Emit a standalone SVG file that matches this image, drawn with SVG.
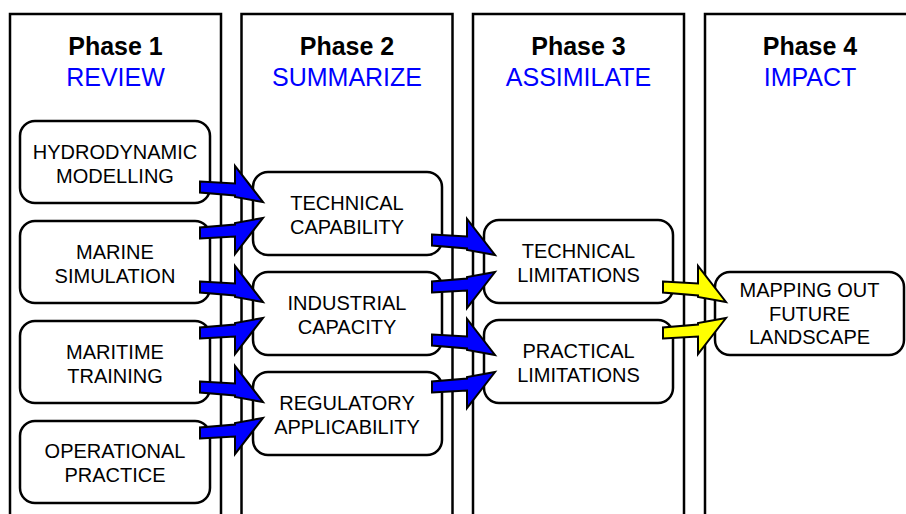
<svg xmlns="http://www.w3.org/2000/svg" xmlns:xlink="http://www.w3.org/1999/xlink" width="906" height="514" viewBox="0 0 906 514">
  <style>
    .col { fill: #ffffff; stroke: #000000; stroke-width: 2.5; }
    .node rect { fill: #ffffff; stroke: #000000; stroke-width: 2.5; }
    .node text { font-family: "Liberation Sans", Arial, sans-serif; font-size: 20px; fill: #000000; text-anchor: middle; }
    .phase { font-family: "Liberation Sans", Arial, sans-serif; font-size: 25px; font-weight: bold; fill: #000000; text-anchor: middle; }
    .stage { font-family: "Liberation Sans", Arial, sans-serif; font-size: 25px; fill: #0000ff; text-anchor: middle; }
    .blue { fill: #0000ff; stroke: #000000; stroke-width: 2; stroke-linejoin: miter; }
    .yellow { fill: #ffff00; stroke: #000000; stroke-width: 2; stroke-linejoin: miter; }
  </style>
  <defs>
    <!-- block arrows, tail centre at origin; "down" tilts toward +y, "up" toward -y -->
    <path id="arrow-down" d="M0,-5.5 L35,-3.5 L35,-21 L63,15 L35,10 L35,8.5 L0,5.5 Z"/>
    <path id="arrow-up" d="M0,5.5 L35,3.5 L35,21 L63,-15 L35,-10 L35,-8.5 L0,-5.5 Z"/>
  </defs>

  <rect width="906" height="514" fill="#ffffff"/>

  <!-- phase columns -->
  <g id="columns">
    <g id="col-1">
      <rect class="col" x="10" y="14" width="211" height="530"/>
      <text class="phase" x="115.5" y="55">Phase 1</text>
      <text class="stage" x="115.5" y="86">REVIEW</text>
    </g>
    <g id="col-2">
      <rect class="col" x="241.5" y="14" width="211" height="530"/>
      <text class="phase" x="347" y="55">Phase 2</text>
      <text class="stage" x="347" y="86">SUMMARIZE</text>
    </g>
    <g id="col-3">
      <rect class="col" x="473" y="14" width="211" height="530"/>
      <text class="phase" x="578.5" y="55">Phase 3</text>
      <text class="stage" x="578.5" y="86">ASSIMILATE</text>
    </g>
    <g id="col-4">
      <rect class="col" x="705" y="14" width="230" height="530"/>
      <text class="phase" x="810" y="55">Phase 4</text>
      <text class="stage" x="810" y="86">IMPACT</text>
    </g>
  </g>

  <!-- phase 1 nodes -->
  <g id="hydrodynamic" class="node">
    <rect x="20" y="121" width="190" height="82" rx="15"/>
    <text x="115" y="159">HYDRODYNAMIC</text>
    <text x="115" y="183">MODELLING</text>
  </g>
  <g id="marine-sim" class="node">
    <rect x="20" y="221" width="190" height="82" rx="15"/>
    <text x="115" y="259">MARINE</text>
    <text x="115" y="283">SIMULATION</text>
  </g>
  <g id="maritime-training" class="node">
    <rect x="20" y="321" width="190" height="82" rx="15"/>
    <text x="115" y="359">MARITIME</text>
    <text x="115" y="383">TRAINING</text>
  </g>
  <g id="operational-practice" class="node">
    <rect x="20" y="421" width="190" height="82" rx="15"/>
    <text x="115" y="458">OPERATIONAL</text>
    <text x="115" y="482">PRACTICE</text>
  </g>

  <!-- phase 2 nodes -->
  <g id="technical-capability" class="node">
    <rect x="253" y="172" width="189" height="83" rx="15"/>
    <text x="347" y="210">TECHNICAL</text>
    <text x="347" y="234">CAPABILITY</text>
  </g>
  <g id="industrial-capacity" class="node">
    <rect x="253" y="272" width="189" height="83" rx="15"/>
    <text x="347" y="310">INDUSTRIAL</text>
    <text x="347" y="334">CAPACITY</text>
  </g>
  <g id="regulatory-applicability" class="node">
    <rect x="253" y="372" width="189" height="83" rx="15"/>
    <text x="347" y="410">REGULATORY</text>
    <text x="347" y="434">APPLICABILITY</text>
  </g>

  <!-- phase 3 nodes -->
  <g id="technical-limitations" class="node">
    <rect x="484" y="220" width="189" height="83" rx="15"/>
    <text x="578.5" y="258">TECHNICAL</text>
    <text x="578.5" y="282">LIMITATIONS</text>
  </g>
  <g id="practical-limitations" class="node">
    <rect x="484" y="320" width="189" height="83" rx="15"/>
    <text x="578.5" y="358">PRACTICAL</text>
    <text x="578.5" y="382">LIMITATIONS</text>
  </g>

  <!-- phase 4 node -->
  <g id="future-landscape" class="node">
    <rect x="715" y="272" width="189" height="83" rx="15"/>
    <text x="809.5" y="297">MAPPING OUT</text>
    <text x="809.5" y="320.5">FUTURE</text>
    <text x="809.5" y="344">LANDSCAPE</text>
  </g>

  <!-- connectors -->
  <g id="connectors">
    <use xlink:href="#arrow-down" class="blue" transform="translate(200,187)"/>
    <use xlink:href="#arrow-up" class="blue" transform="translate(200,233)"/>
    <use xlink:href="#arrow-down" class="blue" transform="translate(200,287)"/>
    <use xlink:href="#arrow-up" class="blue" transform="translate(200,333)"/>
    <use xlink:href="#arrow-down" class="blue" transform="translate(200,387)"/>
    <use xlink:href="#arrow-up" class="blue" transform="translate(200,433)"/>

    <use xlink:href="#arrow-down" class="blue" transform="translate(432,240)"/>
    <use xlink:href="#arrow-up" class="blue" transform="translate(432,287)"/>
    <use xlink:href="#arrow-down" class="blue" transform="translate(432,340)"/>
    <use xlink:href="#arrow-up" class="blue" transform="translate(432,387)"/>

    <use xlink:href="#arrow-down" class="yellow" transform="translate(663,287)"/>
    <use xlink:href="#arrow-up" class="yellow" transform="translate(663,333)"/>
  </g>
</svg>
